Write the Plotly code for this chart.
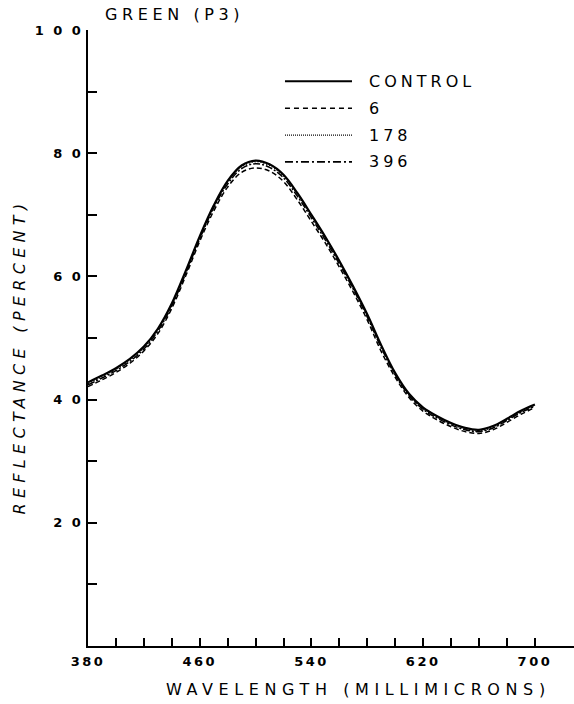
import plotly.graph_objects as go

# Wavelength samples (millimicrons)
wavelength = [380, 390, 400, 410, 420, 430, 440, 450, 460, 470, 480,
              490, 500, 510, 520, 530, 540, 550, 560, 570, 580, 590,
              600, 610, 620, 630, 640, 650, 660, 670, 680, 690, 700]

# Reflectance (percent) for each sample
control = [42.8, 43.9, 45.1, 46.6, 48.6, 51.5, 55.6, 60.9, 66.5, 71.5, 75.5,
           78.0, 78.8, 78.2, 76.5, 73.5, 70.0, 66.4, 62.5, 58.3, 53.8, 48.8,
           44.3, 40.9, 38.7, 37.3, 36.2, 35.4, 35.1, 35.7, 36.9, 38.2, 39.2]
s6 = [42.1, 43.2, 44.4, 45.9, 47.9, 50.7, 54.8, 60.1, 65.7, 70.6, 74.5,
      76.9, 77.6, 77.1, 75.4, 72.4, 68.9, 65.4, 61.5, 57.4, 52.9, 47.8,
      43.6, 40.3, 38.1, 36.7, 35.6, 34.8, 34.5, 35.1, 36.3, 37.6, 38.7]
s178 = [42.6, 43.7, 44.9, 46.4, 48.4, 51.3, 55.4, 60.7, 66.3, 71.3, 75.3,
        77.8, 78.6, 78.0, 76.3, 73.3, 69.8, 66.2, 62.3, 58.1, 53.6, 48.6,
        44.1, 40.7, 38.5, 37.1, 36.0, 35.2, 34.9, 35.5, 36.7, 38.0, 39.0]
s396 = [42.4, 43.5, 44.7, 46.2, 48.2, 51.1, 55.2, 60.5, 66.1, 71.1, 75.0,
        77.5, 78.3, 77.7, 76.0, 73.0, 69.5, 65.9, 62.0, 57.9, 53.4, 48.4,
        44.0, 40.6, 38.4, 37.0, 35.9, 35.1, 34.8, 35.4, 36.6, 37.9, 38.9]

series_names = ["CONTROL", "6", "178", "396"]
series_values = [control, s6, s178, s396]
series_dash = ["solid", "5px,3px", "1px,2px", "7px,2px,2px,2px"]
series_width = [2.2, 1.5, 1.3, 1.5]

x_tickvals = [380, 400, 420, 440, 460, 480, 500, 520, 540, 560, 580,
              600, 620, 640, 660, 680, 700]
x_ticklabels = {380: "380", 460: "460", 540: "540", 620: "620", 700: "700"}
y_tickvals = [10, 20, 30, 40, 50, 60, 70, 80, 90, 100]
y_ticklabels = {20: "2 0", 40: "4 0", 60: "6 0", 80: "8 0", 100: "1 0 0"}

FONT = "DejaVu Sans"


def spaced(text, px):
    return f"<span style='letter-spacing:{px}px'>{text}</span>" if text else ""


fig = go.Figure()
for name, vals, dash, w in zip(series_names, series_values, series_dash, series_width):
    fig.add_trace(go.Scatter(
        x=wavelength, y=vals, mode="lines", name=name,
        line=dict(color="black", width=w, dash=dash, shape="spline", smoothing=1.0),
        showlegend=False,
    ))

# Key in the upper right of the plotting area
key_rows = [0.917, 0.873, 0.8295, 0.786]
for name, dash, w, ky in zip(series_names,
                             ["solid", "5px,4px", "1px,1px", "8px,3px,2px,3px"],
                             [2.0, 1.5, 1.2, 1.8], key_rows):
    fig.add_shape(type="line", xref="paper", yref="paper",
                  x0=0.4053, x1=0.5432, y0=ky, y1=ky,
                  line=dict(color="black", width=w, dash=dash))
    fig.add_annotation(xref="paper", yref="paper", x=0.574, y=ky,
                       xanchor="left", yanchor="middle", showarrow=False,
                       text=spaced(name, 4),
                       font=dict(family=FONT, size=16, color="black"))

# Titles
fig.add_annotation(xref="paper", yref="paper", x=0.031, y=1.0244,
                   xanchor="left", yanchor="middle", showarrow=False,
                   text=spaced("GREEN (P3)", 4.6),
                   font=dict(family=FONT, size=16, color="black"))
fig.add_annotation(xref="paper", yref="paper", x=0.5556, y=-0.0714,
                   xanchor="center", yanchor="middle", showarrow=False,
                   text=spaced("WAVELENGTH (MILLIMICRONS)", 5.6),
                   font=dict(family=FONT, size=16, color="black"))
fig.add_annotation(xref="paper", yref="paper", x=-0.142, y=0.470,
                   xanchor="center", yanchor="middle", showarrow=False,
                   textangle=-90,
                   text=spaced("<i>REFLECTANCE (PERCENT)</i>", 5.3),
                   font=dict(family=FONT, size=16, color="black"))

axis_common = dict(showgrid=False, zeroline=False, showline=True,
                   linecolor="black", linewidth=2, ticks="inside",
                   tickcolor="black", tickwidth=2, mirror=False)

fig.update_xaxes(range=[380, 728], tickmode="array", tickvals=x_tickvals,
                 ticktext=[spaced(x_ticklabels.get(v, ""), 2.5) for v in x_tickvals],
                 tickfont=dict(family=FONT, size=13, color="black", weight="bold"),
                 ticklen=8, ticklabelstandoff=2, **axis_common)
fig.update_yaxes(range=[0, 100], tickmode="array", tickvals=y_tickvals,
                 ticktext=[spaced(y_ticklabels.get(v, ""), 2.5) for v in y_tickvals],
                 tickfont=dict(family=FONT, size=13, color="black", weight="bold"),
                 ticklen=9, **axis_common)

fig.update_layout(width=574, height=704,
                  margin=dict(l=88, r=0, t=30, b=58),
                  paper_bgcolor="white", plot_bgcolor="white",
                  showlegend=False)

fig.write_html("out.html")
